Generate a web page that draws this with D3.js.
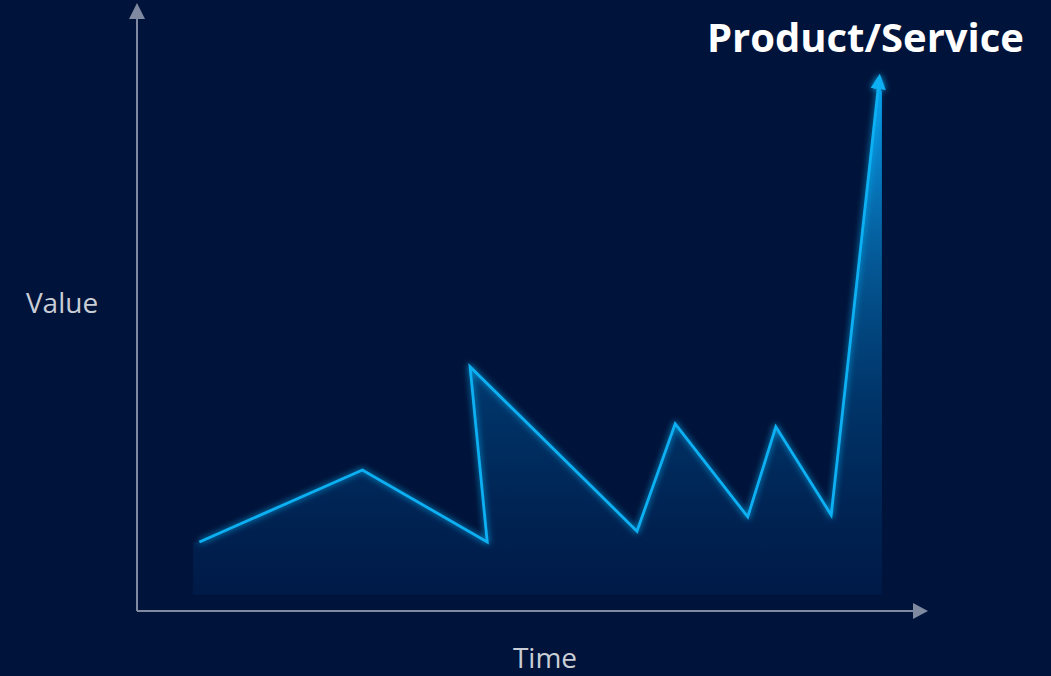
<!DOCTYPE html>
<html><head><meta charset="utf-8">
<script src="https://cdn.jsdelivr.net/npm/d3@7"></script>
<style>
html,body{margin:0;padding:0;background:#00133a;}
svg{display:block;}
</style></head>
<body>
<script>
// Data (time units, value units)
const times  = [0.80, 2.89, 4.49, 4.27, 6.41, 6.90, 7.83, 8.19, 8.90, 9.51];
const values = [11.5, 23.5, 11.5, 40.7, 13.3, 31.2, 15.7, 30.7, 16.0, 88.0];
const baseValue = 2.7;
const titleText = "Product/Service";
const xLabel = "Time";
const yLabel = "Value";

const W = 1051, H = 676;
const svg = d3.select("body").append("svg").attr("width", W).attr("height", H);
svg.append("rect").attr("width", W).attr("height", H).attr("fill", "#00133a");

const x = d3.scaleLinear().domain([0, 10]).range([137, 917]);
const y = d3.scaleLinear().domain([0, 100]).range([611, 11]);

const defs = svg.append("defs");
const grad = defs.append("linearGradient").attr("id", "areaGrad")
  .attr("gradientUnits", "userSpaceOnUse")
  .attr("x1", 0).attr("x2", 0).attr("y1", y(88)).attr("y2", y(baseValue));
grad.append("stop").attr("offset", "0%").attr("stop-color", "#0aa0ee").attr("stop-opacity", 1);
grad.append("stop").attr("offset", "35%").attr("stop-color", "#0676bd").attr("stop-opacity", 0.7);
grad.append("stop").attr("offset", "62%").attr("stop-color", "#00508f").attr("stop-opacity", 0.55);
grad.append("stop").attr("offset", "100%").attr("stop-color", "#00245a").attr("stop-opacity", 0.4);

const glow = defs.append("filter").attr("id", "glow")
  .attr("x", "-20%").attr("y", "-20%").attr("width", "140%").attr("height", "140%");
glow.append("feGaussianBlur").attr("in", "SourceGraphic").attr("stdDeviation", 3).attr("result", "b");
const fm = glow.append("feMerge");
fm.append("feMergeNode").attr("in", "b");
fm.append("feMergeNode").attr("in", "SourceGraphic");

defs.append("marker").attr("id", "lineArrow")
  .attr("viewBox", "0 0 10 10").attr("refX", 4).attr("refY", 5)
  .attr("markerWidth", 5.5).attr("markerHeight", 5.5)
  .attr("markerUnits", "strokeWidth").attr("orient", "auto")
  .append("path").attr("d", "M0,0 L10,5 L0,10 Z").attr("fill", "#0fb0f2");

const data = times.map((t, i) => ({t, v: values[i]}));

// Area
const area = d3.area().x(d => x(d.t)).y0(y(baseValue)).y1(d => y(d.v));
const areaData = [{t: times[0] - 0.08, v: values[0]}, ...data, {t: times[times.length-1] + 0.04, v: values[values.length-1] - 1.5}];
svg.append("path").datum(areaData).attr("d", area).attr("fill", "url(#areaGrad)");

// Axes
const axisColor = "#7f8aa0";
svg.append("line").attr("x1", x(0)).attr("y1", y(0)).attr("x2", x(0)).attr("y2", 18)
  .attr("stroke", axisColor).attr("stroke-width", 2);
svg.append("path").attr("d", `M${x(0)},3 L${x(0)+8},19 L${x(0)-8},19 Z`).attr("fill", axisColor);
svg.append("line").attr("x1", x(0)).attr("y1", y(0)).attr("x2", 914).attr("y2", y(0))
  .attr("stroke", axisColor).attr("stroke-width", 2);
svg.append("path").attr("d", `M928,${y(0)} L913,${y(0)-8} L913,${y(0)+8} Z`).attr("fill", axisColor);

// Line
const line = d3.line().x(d => x(d.t)).y(d => y(d.v));
svg.append("path").datum(data).attr("d", line)
  .attr("fill", "none").attr("stroke", "#0fb0f2").attr("stroke-width", 2.8)
  .attr("stroke-linejoin", "miter")
  .attr("filter", "url(#glow)")
  .attr("marker-end", "url(#lineArrow)");

// Labels
svg.append("text").attr("x", 1024).attr("y", 52).attr("text-anchor", "end")
  .attr("font-family", "'Open Sans', 'Noto Sans', sans-serif").attr("font-weight", 700)
  .attr("font-size", 40).attr("fill", "#ffffff").text(titleText);
svg.append("text").attr("x", 62).attr("y", 313).attr("text-anchor", "middle")
  .attr("font-family", "'Open Sans', 'Noto Sans', sans-serif")
  .attr("font-size", 28).attr("fill", "#c9cdd6").text(yLabel);
svg.append("text").attr("x", 545).attr("y", 668).attr("text-anchor", "middle")
  .attr("font-family", "'Open Sans', 'Noto Sans', sans-serif")
  .attr("font-size", 28).attr("fill", "#c9cdd6").text(xLabel);
</script>
</body></html>
